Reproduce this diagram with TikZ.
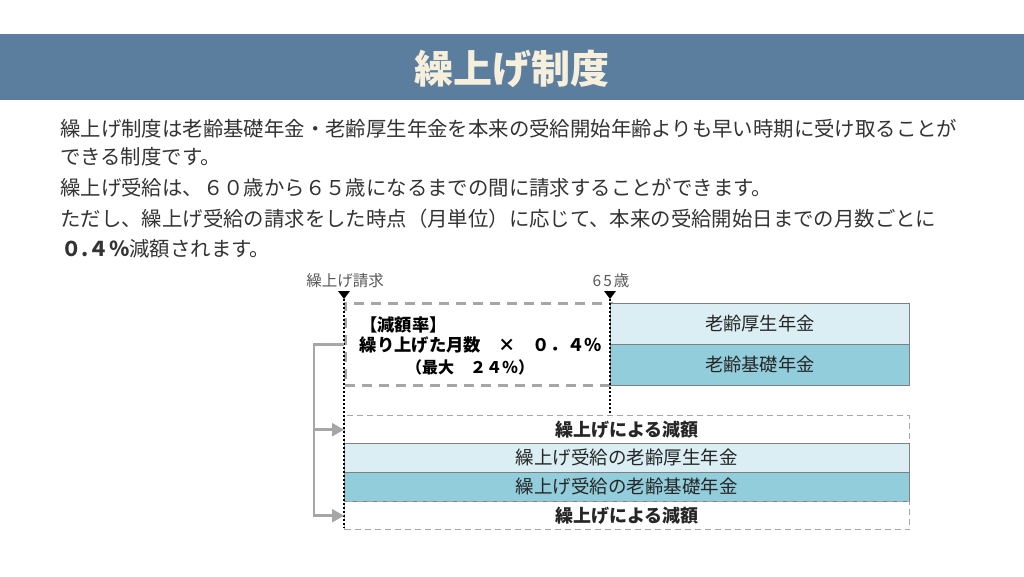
\documentclass[tikz,border=0pt]{standalone}
\usepackage{fontspec}
\setmainfont{Noto Sans CJK JP}
\usetikzlibrary{arrows.meta}
\definecolor{barblue}{HTML}{5B7E9F}
\definecolor{cream}{HTML}{F6EFDC}
\definecolor{bodytext}{HTML}{333333}
\definecolor{labgray}{HTML}{595959}
\definecolor{boxtext}{HTML}{262626}
\definecolor{linegray}{HTML}{A6A6A6}
\definecolor{boxgray}{HTML}{7F7F7F}
\definecolor{lightblue}{HTML}{DAEEF3}
\definecolor{midblue}{HTML}{92CDDC}
\def\fs#1{\fontsize{#1}{#1}\selectfont}

\begin{document}
\begin{tikzpicture}[x=1pt, y=-1pt, every node/.style={inner sep=0pt},
	body/.style={anchor=west, font=\fs{20.4}, text=bodytext},
	band/.style={draw=boxgray, line width=0.8pt, anchor=north west, minimum width=565pt, minimum height=29pt, font=\fs{18.5}, text=boxtext},
	cutband/.style={band, draw=linegray, dash pattern=on 6pt off 4pt, line width=1.4pt, minimum height=28pt, font=\bfseries\fs{18}},
	pension/.style={draw=boxgray, line width=0.8pt, anchor=north west, minimum width=299pt, minimum height=41pt, font=\fs{18.3}, text=boxtext},
	dotline/.style={line width=2.4pt, dash pattern=on 2.2pt off 1.8pt},
	feed/.style={draw=linegray, line width=2.5pt, -{Triangle[length=12pt,width=13pt]}}]
	\useasboundingbox (0,0) rectangle (1024,576);
	\fill[white] (0,0) rectangle (1024,576);
	% title bar
	\fill[barblue] (0,34) rectangle (1024,100);
	\node[font=\bfseries\fs{39}, text=cream] (title) at (512,69) {繰上げ制度};
	% explanation
	\node[body] (l1) at (60,129) {繰上げ制度は老齢基礎年金・老齢厚生年金を本来の受給開始年齢よりも早い時期に受け取ることが};
	\node[body] (l2) at (60,157) {できる制度です。};
	\node[body] (l3) at (60,188) {繰上げ受給は、６０歳から６５歳になるまでの間に請求することができます。};
	\node[body] (l4) at (60,219) {ただし、繰上げ受給の請求をした時点（月単位）に応じて、本来の受給開始日までの月数ごとに};
	\node[body] (l5) at (61,249) {{\bfseries ０.４％}減額されます。};
	
	% reduction rate box
	\node[draw=linegray, line width=2.5pt, dash pattern=on 10pt off 7pt, anchor=north west, minimum width=266pt, minimum height=82pt] (rate) at (344,302) {};
	\node[anchor=west, font=\bfseries\fs{17.3}, text=black] (r1) at (360,325) {【減額率】};
	\node[font=\bfseries\fs{17.3}, text=black] (r2) at (481,345) {繰り上げた月数　×　０．４％};
	\node[font=\bfseries\fs{16}, text=black] (r3) at (470,367) {（最大　２４％）};
	
	% pensions from 65
	\node[pension, fill=lightblue] (kosei) at (610,303) {老齢厚生年金};
	\node[pension, fill=midblue] (kiso) at (610,344) {老齢基礎年金};
	
	% pensions from the request
	\node[cutband] (cutA) at (344,415) {繰上げによる減額};
	\node[band, fill=lightblue] (kuriK) at (344,443) {繰上げ受給の老齢厚生年金};
	\node[band, fill=midblue] (kuriB) at (344,472) {繰上げ受給の老齢基礎年金};
	\node[cutband] (cutB) at (344,501) {繰上げによる減額};
	
	% time marks
	\foreach \x/\e/\t in {344/528/繰上げ請求, 610/415/6\hspace{2pt}5\hspace{2pt}歳}
	{
		\node[font=\fs{15.5}, text=labgray] at (\x+1,281) {\t};
		\fill (\x-6,291) -- (\x+6,291) -- (\x,299) -- cycle;
		\draw[dotline] (\x,299) -- (\x,\e);
	}
	
	% arrows
	\coordinate (fork) at (314,0);
	\draw[feed] (rate.west) -- (rate.west -| fork) -- (cutB.west -| fork) -- (cutB.west);
	\draw[feed] (cutA.west -| fork) -- (cutA.west);
\end{tikzpicture}
\end{document}
